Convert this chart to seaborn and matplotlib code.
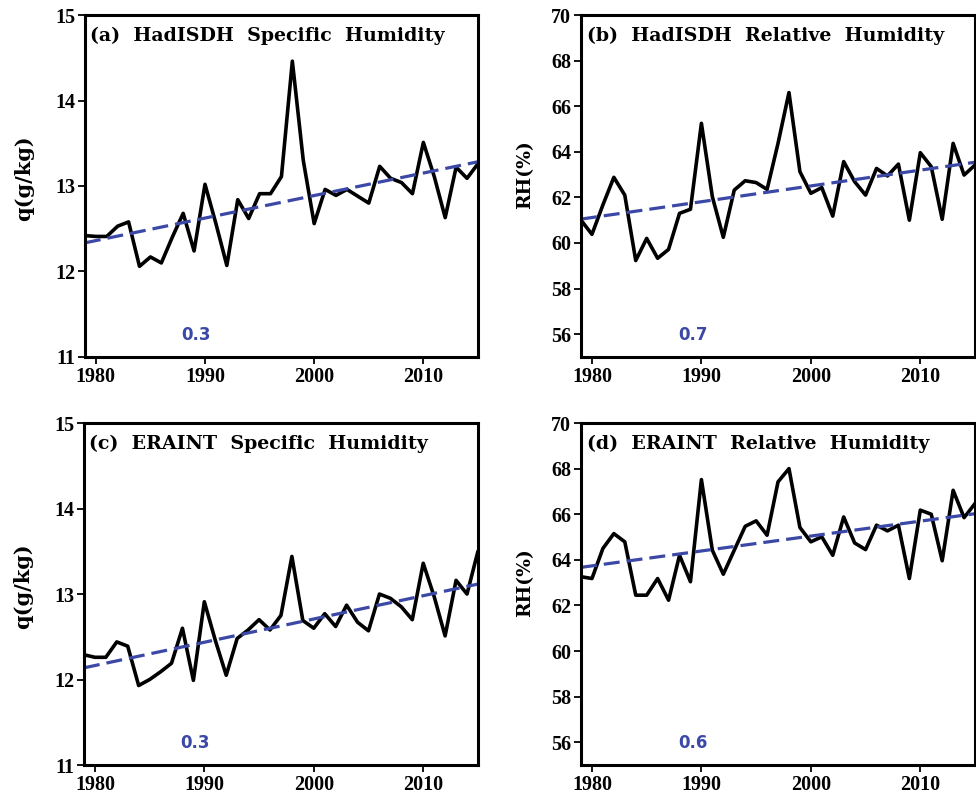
import numpy as np
import pandas as pd
import matplotlib
matplotlib.use("Agg")
import matplotlib.pyplot as plt
import seaborn as sns

years = list(range(1979, 2016))

had_q = [12.42, 12.41, 12.41, 12.53, 12.58, 12.06, 12.17, 12.10, 12.40, 12.68,
         12.24, 13.02, 12.56, 12.07, 12.84, 12.62, 12.91, 12.91, 13.11, 14.46,
         13.30, 12.56, 12.96, 12.89, 12.96, 12.88, 12.80, 13.23, 13.09, 13.04,
         12.91, 13.51, 13.11, 12.63, 13.22, 13.09, 13.26]

had_rh = [61.0, 60.38, 61.67, 62.88, 62.1, 59.23, 60.2, 59.33, 59.72, 61.3,
          61.48, 65.25, 62.03, 60.25, 62.32, 62.73, 62.65, 62.35, 64.37, 66.6,
          63.13, 62.18, 62.43, 61.18, 63.57, 62.69, 62.1, 63.27, 62.94, 63.46,
          61.0, 63.96, 63.35, 61.04, 64.37, 62.98, 63.42]

era_q = [12.29, 12.26, 12.26, 12.44, 12.39, 11.93, 12.0, 12.09, 12.19, 12.6,
         11.99, 12.91, 12.46, 12.05, 12.48, 12.58, 12.70, 12.58, 12.75, 13.44,
         12.69, 12.6, 12.77, 12.62, 12.87, 12.67, 12.57, 13.0, 12.95, 12.85,
         12.70, 13.36, 12.97, 12.51, 13.16, 13.0, 13.5]

era_rh = [63.26, 63.18, 64.5, 65.15, 64.79, 62.45, 62.45, 63.18, 62.23, 64.2,
          63.04, 67.52, 64.42, 63.37, 64.42, 65.47, 65.71, 65.08, 67.42, 68.0,
          65.42, 64.79, 65.01, 64.2, 65.88, 64.74, 64.45, 65.52, 65.27, 65.52,
          63.18, 66.18, 66.0, 63.96, 67.05, 65.85, 66.47]

titles = ["(a)  HadISDH  Specific  Humidity", "(b)  HadISDH  Relative  Humidity",
          "(c)  ERAINT  Specific  Humidity", "(d)  ERAINT  Relative  Humidity"]
trend_labels = ["0.3", "0.7", "0.3", "0.6"]
ylabels = ["q(g/kg)", "RH(%)", "q(g/kg)", "RH(%)"]
q_ticks = [11, 12, 13, 14, 15]
rh_ticks = [56, 58, 60, 62, 64, 66, 68, 70]
x_ticks = [1980, 1990, 2000, 2010]

sns.set_style("ticks")
plt.rcParams['font.family'] = ['Liberation Serif', 'DejaVu Serif']
plt.rcParams['font.weight'] = 'bold'
for key in ['text.color', 'axes.labelcolor', 'xtick.color', 'ytick.color', 'axes.edgecolor']:
    plt.rcParams[key] = 'black'

BLUE = '#3b48a6'

fig = plt.figure(figsize=(9.76, 7.94), dpi=100)
positions = [[0.087, 0.5504, 0.4027, 0.4307],
             [0.5953, 0.5504, 0.4037, 0.4307],
             [0.086, 0.0365, 0.4037, 0.4307],
             [0.5953, 0.0365, 0.4037, 0.4307]]
series = [had_q, had_rh, era_q, era_rh]

for i, vals in enumerate(series):
    ax = fig.add_axes(positions[i])
    df = pd.DataFrame({'year': years, 'value': vals})
    slope, icpt = np.polyfit(df['year'], df['value'], 1)
    df['trend'] = slope * df['year'] + icpt

    sns.lineplot(data=df, x='year', y='value', color='black', lw=2.6, ax=ax)
    sns.lineplot(data=df, x='year', y='trend', color=BLUE, lw=2.3, ax=ax)
    ax.lines[-1].set_linestyle((0, (5, 2.2)))

    ax.set_xlim(1979, 2015)
    if i % 2 == 0:
        ax.set_ylim(11, 15)
        ax.set_yticks(q_ticks)
        ax.set_ylabel(ylabels[i], fontsize=15, fontweight='bold', family=['DejaVu Serif'])
        ax.yaxis.set_label_coords(-0.128, 0.523)
    else:
        ax.set_ylim(55, 70)
        ax.set_yticks(rh_ticks)
        ax.set_ylabel(ylabels[i], fontsize=13.5, fontweight='bold', family=['DejaVu Serif'])
        ax.yaxis.set_label_coords(-0.12, 0.532)
    ax.set_xticks(x_ticks)
    ax.set_xlabel('')
    ax.tick_params(direction='out', length=5, width=1.3, labelsize=14.5, pad=2)
    for lab in ax.get_xticklabels() + ax.get_yticklabels():
        lab.set_fontweight('bold')
    for sp in ax.spines.values():
        sp.set_visible(True)
        sp.set_linewidth(2.2)

    ax.text(0.014, 0.94, titles[i], transform=ax.transAxes, fontsize=13.7,
            fontweight='bold', va='center', ha='left', family=['DejaVu Serif'])
    ax.text(0.283, 0.065, trend_labels[i], transform=ax.transAxes, fontsize=12,
            fontweight='bold', color=BLUE, va='center', ha='center',
            family=['DejaVu Sans'])

fig.savefig('out.png', dpi=100)
